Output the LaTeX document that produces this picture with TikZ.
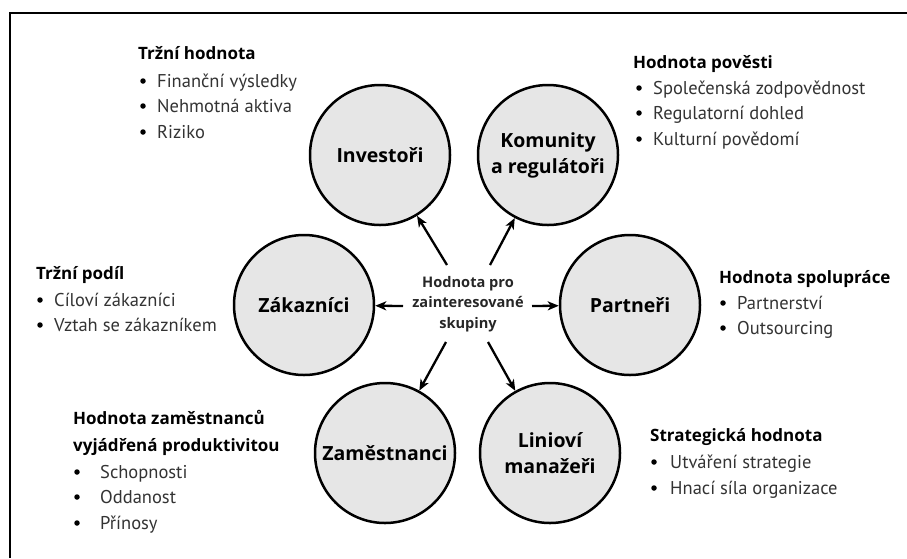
\documentclass[tikz,border=0pt]{standalone}
\usepackage{fontspec}
\setmainfont{PT Sans}
\newfontfamily\headfont{Open Sans}
\usetikzlibrary{arrows.meta}
\definecolor{circfill}{HTML}{E6E6E6}
\definecolor{bodytext}{HTML}{333333}
\begin{document}
\begin{tikzpicture}[x=1pt,y=-1pt,
  frame/.style={line width=2pt},
  hub/.style={circle, draw, line width=2.5pt, fill=circfill, minimum size=140pt,
    inner sep=0pt, align=center, font=\headfont\bfseries\fontsize{19.5}{26}\selectfont},
  centre/.style={align=center, inner sep=0pt, font=\headfont\bfseries\fontsize{14.6}{20.5}\selectfont, text=black!85},
  head/.style={anchor=west, inner sep=0pt, text height=12.3pt, text depth=0pt,
    font=\headfont\bfseries\fontsize{17}{20}\selectfont},
  item/.style={anchor=west, inner sep=0pt, text height=13.3pt, text depth=0pt,
    font=\fontsize{18.5}{22}\selectfont, text=bodytext},
  dot/.style={circle, fill=black, minimum size=5.5pt, inner sep=0pt},
  arr/.style={line width=2.3pt, -{Stealth[length=11pt,width=9pt,inset=3pt]}}
]
\useasboundingbox (0,0) rectangle (907,558);
\draw[frame] (9.5,558) -- (9.5,12.5) -- (907,12.5);

% stakeholder circles
\node[hub] (inv) at (380,155) {Investoři};
\node[hub] (kom) at (548,155) {Komunity\\a regulátoři};
\node[hub] (zak) at (304,305) {Zákazníci};
\node[hub] (par) at (630,305) {Partneři};
\node[hub] (zam) at (385,453) {Zaměstnanci};
\node[hub] (lin) at (550,453) {Linioví\\manažeři};

% central label and arrow origins
\node[centre] (hub0) at (468,304) {Hodnota pro\\zainteresované\\skupiny};
\coordinate (sUL) at (447,265);
\coordinate (sUR) at (490,265);
\coordinate (sL) at (403,306);
\coordinate (sR) at (532,306);
\coordinate (sLL) at (446,342);
\coordinate (sLR) at (488,342);
\draw[arr] (sUL) -- (inv);
\draw[arr] (sUR) -- (kom);
\draw[arr] (sL) -- (zak);
\draw[arr] (sR) -- (par);
\draw[arr] (sLL) -- (zam);
\draw[arr] (sLR) -- (lin);

% Trzni hodnota
\node[head] (t1) at (138,53) {Tržní hodnota};
\node[dot] (t1d1) at (143,81) {};  \node[item] (t1i1) at (157,81) {Finanční výsledky};
\node[dot] (t1d2) at (143,106) {}; \node[item] (t1i2) at (157,106) {Nehmotná aktiva};
\node[dot] (t1d3) at (143,132) {}; \node[item] (t1i3) at (157,132) {Riziko};

% Hodnota povesti
\node[head] (t2) at (633,62) {Hodnota pověsti};
\node[dot] (t2d1) at (639,88) {};  \node[item] (t2i1) at (653,88) {Společenská zodpovědnost};
\node[dot] (t2d2) at (639,113) {}; \node[item] (t2i2) at (653,113) {Regulatorní dohled};
\node[dot] (t2d3) at (639,139) {}; \node[item] (t2i3) at (653,139) {Kulturní povědomí};

% Trzni podil
\node[head] (t3) at (36,273) {Tržní podíl};
\node[dot] (t3d1) at (40,300) {}; \node[item] (t3i1) at (54,300) {Cíloví zákazníci};
\node[dot] (t3d2) at (40,325) {}; \node[item] (t3i2) at (54,325) {Vztah se zákazníkem};

% Hodnota spoluprace
\node[head] (t4) at (719,277) {Hodnota spolupráce};
\node[dot] (t4d1) at (723,303) {}; \node[item] (t4i1) at (737,303) {Partnerství};
\node[dot] (t4d2) at (723,328) {}; \node[item] (t4i2) at (737,328) {Outsourcing};

% Hodnota zamestnancu
\node[head] (t5) at (73,418) {Hodnota zaměstnanců};
\node[head] (t5b) at (73,445) {vyjádřená produktivitou};
\node[dot] (t5d1) at (77,472) {}; \node[item] (t5i1) at (100,472) {Schopnosti};
\node[dot] (t5d2) at (77,497) {}; \node[item] (t5i2) at (100,497) {Oddanost};
\node[dot] (t5d3) at (77,523) {}; \node[item] (t5i3) at (100,523) {Přínosy};

% Strategicka hodnota
\node[head] (t6) at (650,435) {Strategická hodnota};
\node[dot] (t6d1) at (654,462) {}; \node[item] (t6i1) at (670,462) {Utváření strategie};
\node[dot] (t6d2) at (654,488) {}; \node[item] (t6i2) at (670,488) {Hnací síla organizace};
\end{tikzpicture}
\end{document}
